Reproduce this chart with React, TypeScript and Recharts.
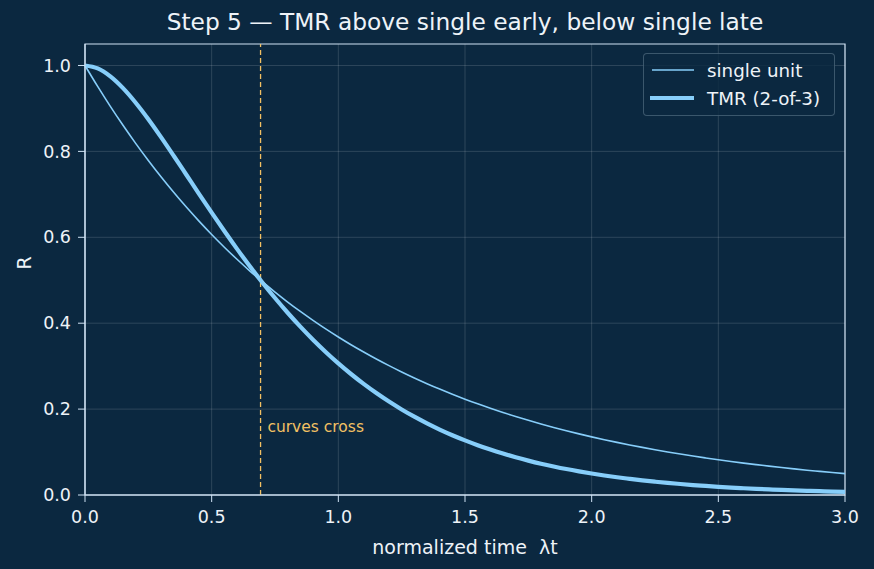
import React from "react";
import { LineChart, Line, XAxis, YAxis, CartesianGrid, ReferenceLine, ReferenceArea, ReferenceDot } from "recharts";

const times = [
  0, 0.05, 0.1, 0.15, 0.2, 0.25, 0.3, 0.35, 0.4, 0.45, 0.5, 0.55, 0.6, 0.65, 0.7, 0.75, 0.8, 0.85, 0.9, 0.95,
  1.0, 1.05, 1.1, 1.15, 1.2, 1.25, 1.3, 1.35, 1.4, 1.45, 1.5, 1.55, 1.6, 1.65, 1.7, 1.75, 1.8, 1.85, 1.9, 1.95,
  2.0, 2.05, 2.1, 2.15, 2.2, 2.25, 2.3, 2.35, 2.4, 2.45, 2.5, 2.55, 2.6, 2.65, 2.7, 2.75, 2.8, 2.85, 2.9, 2.95, 3.0,
];

const singleUnit = [
  1, 0.9512, 0.9048, 0.8607, 0.8187, 0.7788, 0.7408, 0.7047, 0.6703, 0.6376, 0.6065, 0.5769, 0.5488, 0.522, 0.4966,
  0.4724, 0.4493, 0.4274, 0.4066, 0.3867, 0.3679, 0.3499, 0.3329, 0.3166, 0.3012, 0.2865, 0.2725, 0.2592, 0.2466,
  0.2346, 0.2231, 0.2122, 0.2019, 0.192, 0.1827, 0.1738, 0.1653, 0.1572, 0.1496, 0.1423, 0.1353, 0.1287, 0.1225,
  0.1165, 0.1108, 0.1054, 0.1003, 0.0954, 0.0907, 0.0863, 0.0821, 0.0781, 0.0743, 0.0707, 0.0672, 0.0639, 0.0608,
  0.0578, 0.055, 0.0523, 0.0498,
];

const tmr = [
  1, 0.9931, 0.9746, 0.9472, 0.9133, 0.8749, 0.8333, 0.7899, 0.7456, 0.7012, 0.6574, 0.6145, 0.573, 0.5331, 0.4949,
  0.4586, 0.4243, 0.3919, 0.3615, 0.333, 0.3064, 0.2817, 0.2586, 0.2373, 0.2175, 0.1992, 0.1823, 0.1668, 0.1524,
  0.1392, 0.1272, 0.116, 0.1058, 0.0965, 0.0879, 0.0801, 0.0729, 0.0664, 0.0604, 0.055, 0.05, 0.0455, 0.0413,
  0.0376, 0.0341, 0.031, 0.0281, 0.0256, 0.0232, 0.0211, 0.0191, 0.0173, 0.0157, 0.0143, 0.013, 0.0118, 0.0107,
  0.0097, 0.0088, 0.0079, 0.0072,
];

const xTicks = [0, 0.5, 1.0, 1.5, 2.0, 2.5, 3.0];
const yTicks = [0, 0.2, 0.4, 0.6, 0.8, 1.0];
const crossTime = 0.693;

const data = times.map((t, i) => ({ t, single: singleUnit[i], tmr: tmr[i] }));

const BG = "#0b2840";
const LINE = "#87cefa";
const SPINE = "#cfe2f3";
const TEXT = "#eef3f8";
const ORANGE = "#f2c063";

function LegendBox() {
  return (
    <div
      style={{
        position: "absolute",
        left: 643,
        top: 53,
        width: 192,
        height: 63,
        border: "1px solid rgba(207,226,243,0.25)",
        borderRadius: 4,
        background: "rgba(11,40,64,0.8)",
        boxSizing: "border-box",
      }}
    >
      <svg width={192} height={63} style={{ position: "absolute", left: 0, top: 0 }}>
        <line x1={8} x2={50} y1={16} y2={16} stroke={LINE} strokeWidth={1.6} />
        <line x1={6} x2={50} y1={44} y2={44} stroke={LINE} strokeWidth={4} />
        <text x={63} y={16} fill={TEXT} fontSize={18.3} dominantBaseline="central">single unit</text>
        <text x={63} y={44} fill={TEXT} fontSize={18.3} dominantBaseline="central">TMR (2-of-3)</text>
      </svg>
    </div>
  );
}

export default function App() {
  return (
    <div
      style={{
        position: "absolute",
        left: 0,
        top: 0,
        width: 874,
        height: 569,
        background: BG,
        fontFamily: "'DejaVu Sans', sans-serif",
      }}
    >
      <div
        style={{
          position: "absolute",
          left: 85,
          width: 760,
          top: 8,
          textAlign: "center",
          color: TEXT,
          fontSize: 23.3,
          lineHeight: "28px",
        }}
      >
        Step 5 — TMR above single early, below single late
      </div>
      <LineChart width={874} height={569} data={data} margin={{ top: 44, right: 29, bottom: 0, left: 0 }}>
        <CartesianGrid stroke="rgba(255,255,255,0.18)" strokeWidth={0.8} horizontalValues={yTicks} verticalValues={xTicks} />
        <XAxis
          dataKey="t"
          type="number"
          domain={[0, 3]}
          ticks={xTicks}
          tickFormatter={(v: number) => v.toFixed(1)}
          height={74}
          stroke={SPINE}
          tick={{ fill: TEXT, fontSize: 17.5 }}
          tickSize={7}
          tickMargin={9}
          label={{ value: "normalized time\u00a0\u00a0λt", position: "insideBottom", offset: 15, fill: TEXT, fontSize: 19 }}
        />
        <YAxis
          type="number"
          domain={[0, 1.05]}
          ticks={yTicks}
          tickFormatter={(v: number) => v.toFixed(1)}
          width={85}
          stroke={SPINE}
          tick={{ fill: TEXT, fontSize: 17.5 }}
          tickSize={7}
          tickMargin={7}
          allowDataOverflow
          label={{ value: "R", angle: -90, position: "insideLeft", offset: 24, fill: TEXT, fontSize: 19 }}
        />
        <ReferenceArea x1={0} x2={3} y1={0} y2={1.05} fill="none" stroke={SPINE} strokeWidth={1.2} ifOverflow="visible" />
        <ReferenceLine x={crossTime} stroke={ORANGE} strokeDasharray="5 3" strokeWidth={1.3} />
        <ReferenceDot
          x={0.72}
          y={0.16}
          r={0}
          ifOverflow="visible"
          shape={(p: any) => (
            <text x={p.cx} y={p.cy + 1} fill={ORANGE} fontSize={15.5} dominantBaseline="central">
              curves cross
            </text>
          )}
        />
        <Line type="monotone" dataKey="single" stroke={LINE} strokeWidth={1.6} dot={false} isAnimationActive={false} />
        <Line type="monotone" dataKey="tmr" stroke={LINE} strokeWidth={4.2} dot={false} isAnimationActive={false} />
      </LineChart>
      <LegendBox />
    </div>
  );
}
